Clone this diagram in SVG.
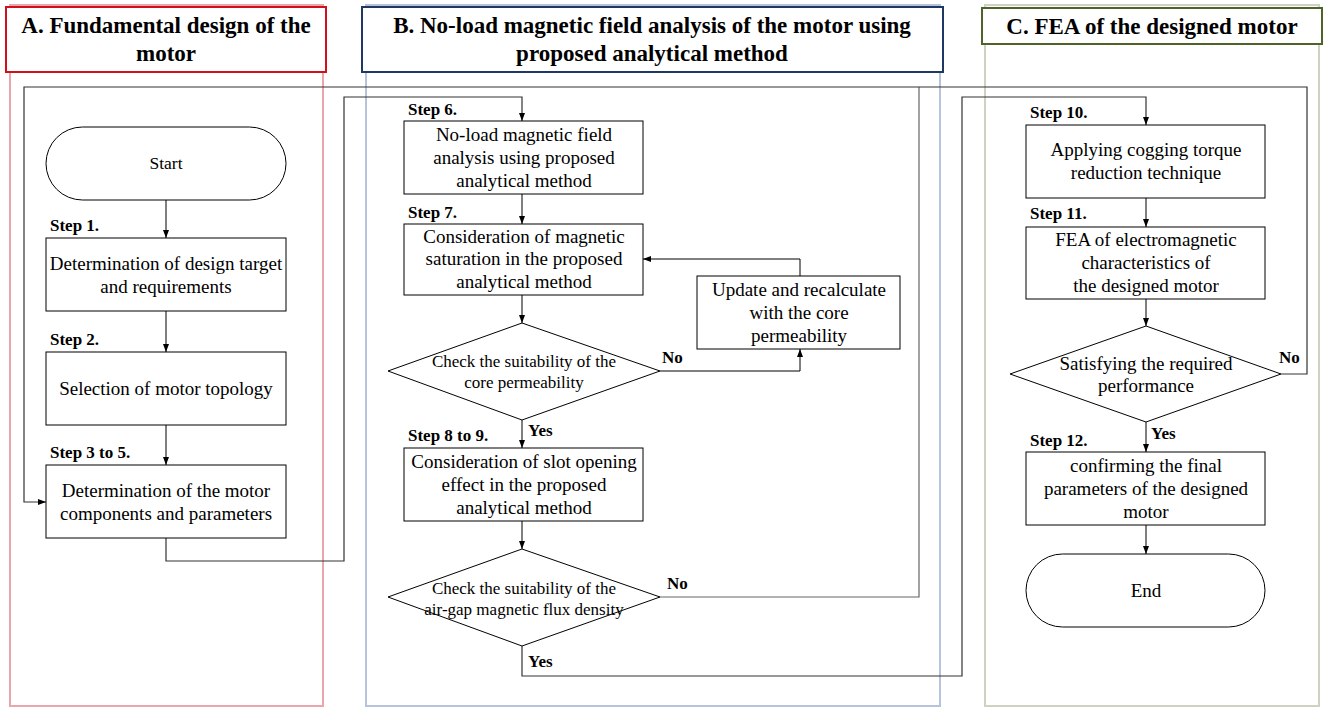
<svg xmlns="http://www.w3.org/2000/svg" width="1335" height="709" viewBox="0 0 1335 709">
<style>
text{font-family:"Liberation Serif","Times New Roman",serif;fill:#000}
.t{font-size:23px;font-weight:bold;text-anchor:middle}
.n{font-size:19px;text-anchor:middle}
.d{font-size:17px;text-anchor:middle}
.s{font-size:17px;font-weight:bold}
.box{fill:#fff;stroke:#000;stroke-width:1}
.c{fill:none;stroke:#000;stroke-width:1}
.c2{fill:none;stroke:#333;stroke-width:1.2}
</style>
<defs>
<marker id="ar" viewBox="0 0 8 8" refX="8" refY="4" markerWidth="8" markerHeight="8" markerUnits="userSpaceOnUse" orient="auto">
<path d="M0,1 L8,4 L0,7 Z" fill="#000"/>
</marker>
</defs>
<rect width="1335" height="709" fill="#fff"/>
<g id="panels">
<rect x="10" y="5" width="313" height="701" fill="none" stroke="#e8a8ab" stroke-width="2"/>
<rect x="366" y="5" width="574" height="701" fill="none" stroke="#b6c3da" stroke-width="2"/>
<rect x="985" y="5" width="334" height="701" fill="none" stroke="#cdd3c0" stroke-width="2"/>
</g>
<g id="titleA">
<rect x="6" y="7" width="320" height="65" fill="#fff" stroke="#d0101a" stroke-width="2"/>
<text class="t" x="166" y="33">A. Fundamental design of the</text>
<text class="t" x="166" y="61">motor</text>
</g>
<g id="titleB">
<rect x="362" y="7" width="581" height="65" fill="#fff" stroke="#1f3763" stroke-width="2"/>
<text class="t" x="652" y="33">B. No-load magnetic field analysis of the motor using</text>
<text class="t" x="652" y="61">proposed analytical method</text>
</g>
<g id="titleC">
<rect x="982" y="8" width="340" height="36" fill="#fff" stroke="#4f6228" stroke-width="2"/>
<text class="t" x="1152" y="34">C. FEA of the designed motor</text>
</g>
<g id="connectors">
<path class="c" d="M166,200 V238" marker-end="url(#ar)"/>
<path class="c" d="M166,311 V352" marker-end="url(#ar)"/>
<path class="c" d="M166,425 V465" marker-end="url(#ar)"/>
<path class="c2" d="M166,538 V561 H344 V97 H522 V121" marker-end="url(#ar)"/>
<path class="c" d="M522,194 V224" marker-end="url(#ar)"/>
<path class="c" d="M522,295 V323" marker-end="url(#ar)"/>
<path class="c" d="M660,371 H800 V349" marker-end="url(#ar)"/>
<path class="c" d="M800,276 V259 H643" marker-end="url(#ar)"/>
<path class="c" d="M522,420 V448" marker-end="url(#ar)"/>
<path class="c" d="M522,521 V549" marker-end="url(#ar)"/>
<path fill="none" stroke="#666" stroke-width="1.2" d="M660,597 H919 V87"/>
<path class="c2" d="M522,646 V676 H962 V97 H1146 V125" marker-end="url(#ar)"/>
<path class="c" d="M1146,198 V227" marker-end="url(#ar)"/>
<path class="c" d="M1146,299 V326" marker-end="url(#ar)"/>
<path class="c" d="M1146,422 V452" marker-end="url(#ar)"/>
<path class="c" d="M1146,525 V554" marker-end="url(#ar)"/>
<path class="c2" d="M1281,374 H1307 V87 H24 V502 H46" marker-end="url(#ar)"/>
<text class="s" x="662" y="363">No</text>
<text class="s" x="528" y="436">Yes</text>
<text class="s" x="667" y="589">No</text>
<text class="s" x="528" y="667">Yes</text>
<text class="s" x="1279" y="363">No</text>
<text class="s" x="1151" y="439">Yes</text>
</g>
<g id="start">
<rect class="box" x="46" y="127" width="240" height="73" rx="36.5"/>
<text x="166" y="169" style="font-size:17.5px;text-anchor:middle">Start</text>
</g>
<g id="step1">
<text class="s" x="50" y="231">Step 1.</text>
<rect class="box" x="46" y="238" width="240" height="73"/>
<text class="n" x="166" y="270">Determination of design target</text>
<text class="n" x="166" y="293">and requirements</text>
</g>
<g id="step2">
<text class="s" x="50" y="345">Step 2.</text>
<rect class="box" x="46" y="352" width="240" height="73"/>
<text class="n" x="166" y="395">Selection of motor topology</text>
</g>
<g id="step3">
<text class="s" x="50" y="458">Step 3 to 5.</text>
<rect class="box" x="46" y="465" width="240" height="73"/>
<text class="n" x="166" y="497">Determination of the motor</text>
<text class="n" x="166" y="520">components and parameters</text>
</g>
<g id="step6">
<text class="s" x="408" y="115">Step 6.</text>
<rect class="box" x="404" y="121" width="239" height="73"/>
<text class="n" x="524" y="141">No-load magnetic field</text>
<text class="n" x="524" y="164">analysis using proposed</text>
<text class="n" x="524" y="187">analytical method</text>
</g>
<g id="step7">
<text class="s" x="408" y="218">Step 7.</text>
<rect class="box" x="404" y="224" width="239" height="71"/>
<text class="n" x="524" y="243">Consideration of magnetic</text>
<text class="n" x="524" y="265">saturation in the proposed</text>
<text class="n" x="524" y="288">analytical method</text>
</g>
<g id="check1">
<polygon class="box" points="522,323 660,371 522,420 388,371"/>
<text class="d" x="524" y="367">Check the suitability of the</text>
<text class="d" x="524" y="388">core permeability</text>
</g>
<g id="update">
<rect class="box" x="697" y="276" width="203" height="73"/>
<text class="n" x="799" y="296">Update and recalculate</text>
<text class="n" x="799" y="319">with the core</text>
<text class="n" x="799" y="342">permeability</text>
</g>
<g id="step8">
<text class="s" x="408" y="441">Step 8 to 9.</text>
<rect class="box" x="404" y="448" width="239" height="73"/>
<text class="n" x="524" y="468">Consideration of slot opening</text>
<text class="n" x="524" y="491">effect in the proposed</text>
<text class="n" x="524" y="514">analytical method</text>
</g>
<g id="check2">
<polygon class="box" points="522,549 660,597 522,646 388,597"/>
<text class="d" x="524" y="594">Check the suitability of the</text>
<text class="d" x="524" y="615">air-gap magnetic flux density</text>
</g>
<g id="step10">
<text class="s" x="1030" y="118">Step 10.</text>
<rect class="box" x="1026" y="125" width="239" height="73"/>
<text class="n" x="1146" y="156">Applying cogging torque</text>
<text class="n" x="1146" y="179">reduction technique</text>
</g>
<g id="step11">
<text class="s" x="1030" y="219">Step 11.</text>
<rect class="box" x="1026" y="227" width="239" height="72"/>
<text class="n" x="1146" y="246">FEA of electromagnetic</text>
<text class="n" x="1146" y="269">characteristics of</text>
<text class="n" x="1146" y="292">the designed motor</text>
</g>
<g id="check3">
<polygon class="box" points="1146,326 1281,374 1146,422 1010,374"/>
<text class="n" x="1146" y="370">Satisfying the required</text>
<text class="n" x="1146" y="392">performance</text>
</g>
<g id="step12">
<text class="s" x="1030" y="446">Step 12.</text>
<rect class="box" x="1026" y="452" width="239" height="73"/>
<text class="n" x="1146" y="472">confirming the final</text>
<text class="n" x="1146" y="495">parameters of the designed</text>
<text class="n" x="1146" y="518">motor</text>
</g>
<g id="end">
<rect class="box" x="1026" y="554" width="239" height="73" rx="36.5"/>
<text class="n" x="1146" y="597">End</text>
</g>
</svg>
